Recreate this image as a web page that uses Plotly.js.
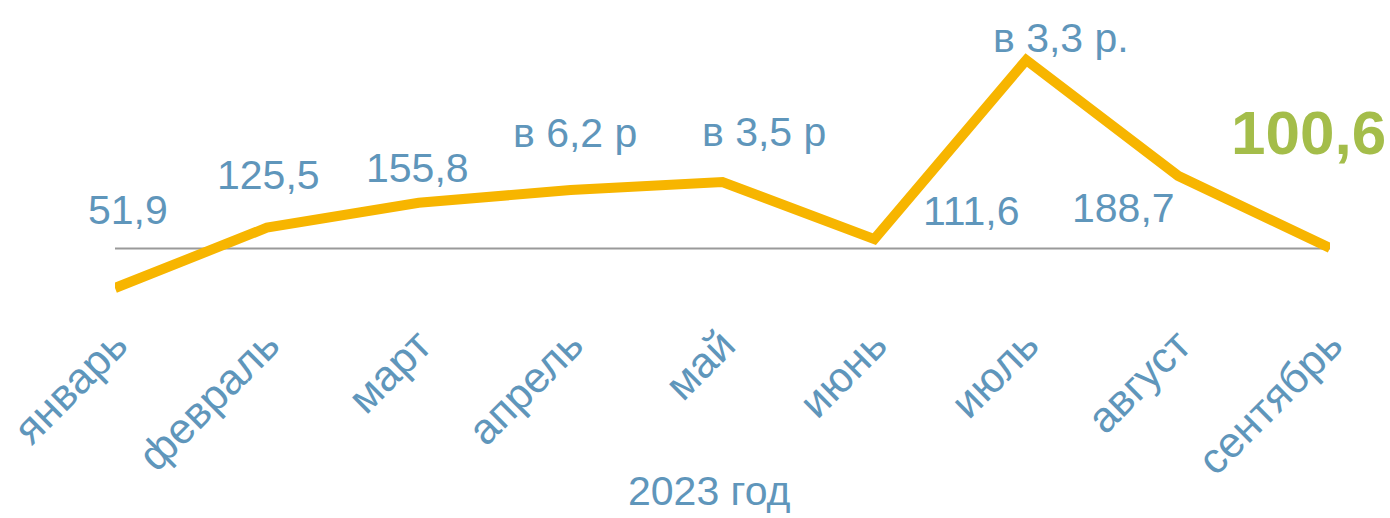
<!DOCTYPE html>
<html>
<head>
<meta charset="utf-8">
<script src="https://cdn.plot.ly/plotly-3.0.1.min.js"></script>
<style>
  html, body { margin: 0; padding: 0; background: #ffffff; }
  #chart { width: 1390px; height: 518px; }
</style>
</head>
<body>
<div id="chart"></div>
<script>
// ---- data ----
const months = ["январь", "февраль", "март", "апрель", "май", "июнь", "июль", "август", "сентябрь"];
const values = [51.9, 125.5, 155.8, 171.4, 181.2, 111.6, 330.0, 188.7, 100.6];
const labels = ["51,9", "125,5", "155,8", "в 6,2 р", "в 3,5 р", "111,6", "в 3,3 р.", "188,7", "100,6"];
const baselineValue = 100;
const axisTitle = "2023 год";

// ---- label placement (pixel offsets from each point) ----
const labelDx = [13, 2, -1, 4, 41, 97, 35, -55, -22];
const labelDy = [78, 53, 35, 57, 50, 28, 22, -32, 116];

const blue = "#5f96bb";
const font = "Liberation Sans, Arial, sans-serif";

const annotations = labels.map((t, i) => {
  const last = i === labels.length - 1;
  return {
    x: months[i], y: values[i], xref: "x", yref: "y",
    text: last ? "<b>" + t + "</b>" : t,
    showarrow: false,
    xanchor: "center", yanchor: "middle",
    xshift: labelDx[i], yshift: labelDy[i],
    font: { family: font, size: last ? 62 : 41, color: last ? "#a4bd4a" : blue }
  };
});
annotations.push({
  text: axisTitle, xref: "paper", yref: "paper", x: 0.4897, y: -0.625,
  xanchor: "center", yanchor: "middle", showarrow: false,
  font: { family: font, size: 41, color: blue }
});

const trace = {
  type: "scatter", mode: "lines",
  x: months, y: values,
  line: { color: "#f7b500", width: 10 },
  hoverinfo: "skip"
};

const layout = {
  width: 1390, height: 518,
  margin: { l: 115, r: 60, t: 20, b: 208 },
  paper_bgcolor: "#ffffff", plot_bgcolor: "#ffffff",
  showlegend: false,
  font: { family: font, color: blue },
  xaxis: {
    type: "category", range: [0, months.length - 1],
    showgrid: false, zeroline: false, showline: false, ticks: "",
    tickangle: -45, tickfont: { family: font, size: 43, color: blue },
    automargin: false, fixedrange: true
  },
  yaxis: {
    range: [25.07, 378.8],
    showgrid: false, zeroline: false, showline: false, showticklabels: false, ticks: "",
    automargin: false, fixedrange: true
  },
  shapes: [{
    type: "line", xref: "x", yref: "y",
    x0: months[0], x1: months[months.length - 1], y0: baselineValue, y1: baselineValue,
    line: { color: "#9a9a9a", width: 2 }, layer: "below"
  }],
  annotations: annotations
};

Plotly.newPlot("chart", [trace], layout, { displayModeBar: false, staticPlot: true });
</script>
</body>
</html>
